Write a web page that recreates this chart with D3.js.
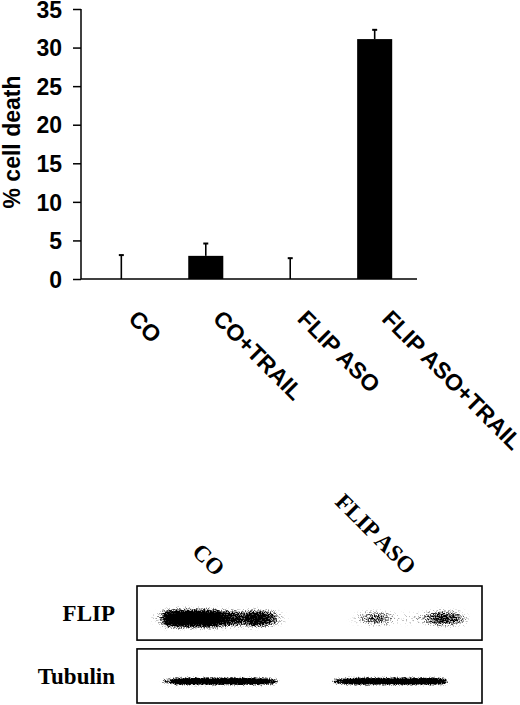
<!DOCTYPE html>
<html lang="en">
<head>
	<meta charset="UTF-8">
	<title>FLIP ASO cell death</title>
	<script type="text/javascript" src="https://cdn.jsdelivr.net/npm/d3@7/dist/d3.min.js"></script>
	<style>
		body { margin: 0; background: #fff; }
		svg { display: block; }
		.sans { font-family: "Liberation Sans", Arial, sans-serif; font-weight: bold; font-size: 23px; }
		.serif { font-family: "Liberation Serif", "Times New Roman", serif; font-weight: bold; font-size: 23px; }
	</style>
</head>
<body>
	<svg id="fig" width="520" height="705"></svg>

	<script>
		// bar chart data
		var categories = ["CO", "CO+TRAIL", "FLIP ASO", "FLIP ASO+TRAIL"];
		var deathPct = [0, 3.0, 0, 31.1];
		var deathErr = [3.1, 1.6, 2.7, 1.2];
		var yTicks = [0, 5, 10, 15, 20, 25, 30, 35];

		// western blot: lanes, rows, and band intensity read across each lane (0..1)
		var blotLanes = ["CO", "FLIP ASO"];
		var blotRows = ["FLIP", "Tubulin"];
		var flipCO = [0.2, 0.9, 1, 1, 1, 1, 0.95, 0.8, 0.7, 0.6, 0.8, 0.8, 0.6, 0.15];
		var flipASO = [0, 0, 0.1, 0.35, 0.45, 0.35, 0.12, 0.1, 0.12, 0.2, 0.45, 0.6, 0.55, 0.4];
		var tubCO = [0, 0.5, 0.9, 1, 1, 1, 1, 1, 1, 1, 1, 0.95, 0.7, 0];
		var tubASO = [0.6, 0.85, 1, 1, 1, 1, 1, 1, 1, 1, 1, 0.8, 0, 0];

		var svg = d3.select("#fig");

		// ---- bar chart ----
		var x = d3.scaleBand().domain(categories).range([81, 415]).paddingInner(0.585).paddingOuter(0.27);
		var y = d3.scaleLinear().domain([0, 35]).range([279, 9]);

		var yAxis = svg.append("g")
			.attr("transform", "translate(81,0)")
			.call(d3.axisLeft(y).tickValues(yTicks).tickSize(8).tickPadding(11));
		yAxis.select(".domain").attr("stroke-width", 1.5).attr("d", "M0," + y(35) + "V" + y(0));
		yAxis.selectAll(".tick line").attr("stroke-width", 1.5);
		yAxis.selectAll(".tick text").attr("class", "sans").attr("fill", "#000").attr("dy", "0.36em");
		yAxis.attr("font-size", null).attr("font-family", null);

		svg.append("line")
			.attr("x1", 81).attr("x2", 417)
			.attr("y1", y(0)).attr("y2", y(0))
			.attr("stroke", "#000").attr("stroke-width", 1.5);

		svg.append("text")
			.attr("class", "sans")
			.attr("transform", "translate(20," + 142 + ") rotate(-90)")
			.attr("text-anchor", "middle")
			.text("% cell death");

		var rows = categories.map(function(c, i) { return {cat: c, v: deathPct[i], e: deathErr[i]}; });

		svg.selectAll("rect.bar").data(rows).enter().append("rect")
			.attr("class", "bar")
			.attr("x", function(d) { return x(d.cat); })
			.attr("width", x.bandwidth())
			.attr("y", function(d) { return y(d.v); })
			.attr("height", function(d) { return y(0) - y(d.v); })
			.attr("fill", "#000");

		var err = svg.selectAll("g.err").data(rows).enter().append("g").attr("class", "err");
		err.append("line")
			.attr("x1", function(d) { return x(d.cat) + x.bandwidth() / 2; })
			.attr("x2", function(d) { return x(d.cat) + x.bandwidth() / 2; })
			.attr("y1", function(d) { return y(d.v); })
			.attr("y2", function(d) { return y(d.v + d.e); })
			.attr("stroke", "#000").attr("stroke-width", 1.6);
		err.append("line")
			.attr("x1", function(d) { return x(d.cat) + x.bandwidth() / 2 - 2.5; })
			.attr("x2", function(d) { return x(d.cat) + x.bandwidth() / 2 + 2.5; })
			.attr("y1", function(d) { return y(d.v + d.e); })
			.attr("y2", function(d) { return y(d.v + d.e); })
			.attr("stroke", "#000").attr("stroke-width", 2);

		svg.selectAll("text.xlab").data(categories).enter().append("text")
			.attr("class", "sans xlab")
			.attr("transform", function(d) { return "translate(" + (x(d) + x.bandwidth() / 2 + 6) + ",320) rotate(45)"; })
			.text(function(d) { return d; });

		// ---- western blot ----
		var defs = svg.append("defs");
		function grainFilter(id, blur, gain) {
			var f = defs.append("filter").attr("id", id)
				.attr("x", "-20%").attr("y", "-80%").attr("width", "140%").attr("height", "260%");
			f.append("feGaussianBlur").attr("in", "SourceGraphic").attr("stdDeviation", blur).attr("result", "blur");
			f.append("feTurbulence").attr("type", "fractalNoise").attr("baseFrequency", 0.75)
				.attr("numOctaves", 2).attr("seed", 7).attr("result", "noise");
			f.append("feColorMatrix").attr("in", "noise").attr("type", "matrix")
				.attr("values", "0 0 0 0 0  0 0 0 0 0  0 0 0 0 0  3 0 0 0 -1").attr("result", "n");
			f.append("feComposite").attr("in", "blur").attr("in2", "n").attr("operator", "arithmetic")
				.attr("k1", 0).attr("k2", gain).attr("k3", 1).attr("k4", -1);
		}
		grainFilter("grainFlip", "2.5 2.2", 2.1);
		grainFilter("grainTub", "1.5 0.8", 2.4);

		var lane = d3.scaleBand().domain(blotLanes).range([137, 482]).paddingInner(0.278).paddingOuter(0.1);
		var row = d3.scaleBand().domain(blotRows).range([586, 703]).paddingInner(0.14);

		svg.selectAll("rect.box").data(blotRows).enter().append("rect")
			.attr("class", "box")
			.attr("x", 137).attr("width", 345)
			.attr("y", function(d) { return row(d); })
			.attr("height", row.bandwidth())
			.attr("fill", "none").attr("stroke", "#000").attr("stroke-width", 1.6);

		svg.selectAll("text.rowlab").data(blotRows).enter().append("text")
			.attr("class", "serif rowlab")
			.attr("x", 115)
			.attr("y", function(d) { return row(d) + row.bandwidth() / 2 + 8; })
			.attr("text-anchor", "end")
			.text(function(d) { return d; });

		svg.selectAll("text.lanelab").data(blotLanes).enter().append("text")
			.attr("class", "serif lanelab")
			.attr("transform", function(d, i) {
				return i === 0 ? "translate(191,553) rotate(45)" : "translate(334,503) rotate(45)";
			})
			.text(function(d) { return d; });

		var bands = [
			{row: "FLIP", lane: "CO", signal: flipCO, thick: 19, filt: "grainFlip"},
			{row: "FLIP", lane: "FLIP ASO", signal: flipASO, thick: 19, filt: "grainFlip"},
			{row: "Tubulin", lane: "CO", signal: tubCO, thick: 7, filt: "grainTub"},
			{row: "Tubulin", lane: "FLIP ASO", signal: tubASO, thick: 7, filt: "grainTub"}
		];

		bands.forEach(function(b) {
			var pos = d3.scaleBand().domain(d3.range(b.signal.length))
				.range([lane(b.lane), lane(b.lane) + lane.bandwidth()]);
			var cy = row(b.row) + row.bandwidth() * 0.6;
			var g = svg.append("g").attr("filter", "url(#" + b.filt + ")");
			g.selectAll("ellipse").data(b.signal).enter().append("ellipse")
				.attr("cx", function(d, i) { return pos(i) + pos.bandwidth() / 2; })
				.attr("cy", cy)
				.attr("rx", pos.bandwidth() * 0.75)
				.attr("ry", function(d) { return b.thick / 2 * (0.5 + 0.5 * d); })
				.attr("fill", "#000")
				.attr("fill-opacity", function(d) { return d; });
		});
	</script>
</body>
</html>
